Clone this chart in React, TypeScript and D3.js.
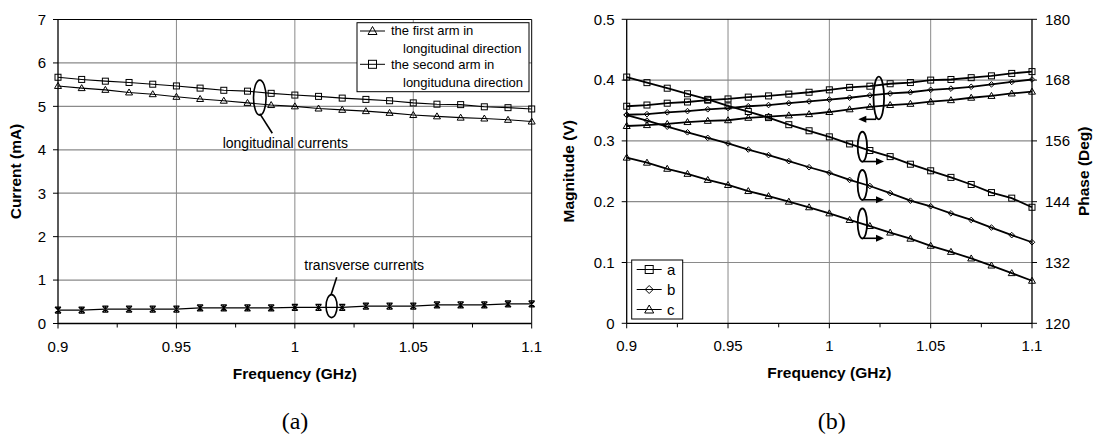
import React from "react";
import * as d3 from "d3";

const freqs = [0.9, 0.91, 0.92, 0.93, 0.94, 0.95, 0.96, 0.97, 0.98, 0.99, 1.0, 1.01, 1.02, 1.03, 1.04, 1.05, 1.06, 1.07, 1.08, 1.09, 1.1];

// chart (a)
const firstArm = [5.47, 5.42, 5.38, 5.32, 5.28, 5.22, 5.17, 5.13, 5.08, 5.03, 5.0, 4.95, 4.92, 4.89, 4.85, 4.8, 4.77, 4.74, 4.72, 4.69, 4.65];
const secondArm = [5.67, 5.62, 5.58, 5.55, 5.51, 5.47, 5.42, 5.37, 5.35, 5.3, 5.26, 5.23, 5.19, 5.16, 5.13, 5.08, 5.05, 5.04, 4.99, 4.97, 4.94];
const transverse = [0.31, 0.31, 0.33, 0.33, 0.33, 0.33, 0.36, 0.36, 0.36, 0.36, 0.37, 0.37, 0.37, 0.4, 0.4, 0.4, 0.43, 0.43, 0.43, 0.45, 0.45];
const currentTicks = [0, 1, 2, 3, 4, 5, 6, 7];

// chart (b)
const magA = [0.357, 0.359, 0.362, 0.364, 0.367, 0.369, 0.372, 0.374, 0.377, 0.38, 0.384, 0.388, 0.39, 0.394, 0.396, 0.4, 0.401, 0.404, 0.407, 0.411, 0.414];
const magB = [0.343, 0.344, 0.347, 0.349, 0.352, 0.354, 0.357, 0.359, 0.362, 0.365, 0.368, 0.371, 0.375, 0.378, 0.38, 0.384, 0.386, 0.389, 0.393, 0.397, 0.401];
const magC = [0.3245, 0.326, 0.328, 0.331, 0.333, 0.334, 0.338, 0.34, 0.342, 0.344, 0.3475, 0.352, 0.356, 0.359, 0.361, 0.3645, 0.367, 0.371, 0.374, 0.378, 0.381];
const phaseA = [168.6, 167.5, 166.4, 165.3, 164.2, 162.9, 161.8, 160.6, 159.2, 158.0, 156.8, 155.4, 154.1, 152.9, 151.4, 150.1, 148.8, 147.4, 145.8, 144.7, 142.9];
const phaseB = [161.1, 160.0, 158.8, 157.7, 156.6, 155.5, 154.3, 153.2, 152.0, 150.8, 149.7, 148.3, 147.1, 145.7, 144.2, 143.1, 141.7, 140.4, 138.9, 137.4, 136.0];
const phaseC = [152.7, 151.7, 150.5, 149.5, 148.3, 147.3, 146.1, 145.1, 144.0, 142.9, 141.7, 140.4, 139.2, 137.9, 136.7, 135.3, 134.1, 132.8, 131.4, 129.9, 128.4];
const magTicks = [0, 0.1, 0.2, 0.3, 0.4, 0.5];
const phaseTicks = [120, 132, 144, 156, 168, 180];

const freqTicks = [0.9, 0.95, 1.0, 1.05, 1.1];
const freqMinor = [0.925, 0.975, 1.025, 1.075];
const freqLabels = ["0.9", "0.95", "1", "1.05", "1.1"];

const SANS = "'Liberation Sans', Arial, sans-serif";
const SERIF = "'Liberation Serif', 'Times New Roman', serif";
const GRID = "#8a8a8a";

type Sc = d3.ScaleLinear<number, number>;

function Marker({ kind, x, y, s = 3 }: { kind: string; x: number; y: number; s?: number }) {
  if (kind === "square")
    return <rect x={x - s} y={y - s} width={2 * s} height={2 * s} fill="none" stroke="#000" strokeWidth={1} />;
  if (kind === "triangle")
    return <path d={`M${x},${y - s - 0.5}L${x + s + 0.5},${y + s - 0.5}L${x - s - 0.5},${y + s - 0.5}Z`} fill="none" stroke="#000" strokeWidth={1} />;
  if (kind === "diamond")
    return <path d={`M${x},${y - s}L${x + s},${y}L${x},${y + s}L${x - s},${y}Z`} fill="none" stroke="#000" strokeWidth={1} />;
  // asterisk / star
  return (
    <path
      d={`M${x - 3},${y - 3}L${x + 3},${y + 3}M${x + 3},${y - 3}L${x - 3},${y + 3}M${x},${y - 3.5}L${x},${y + 3.5}M${x - 3},${y - 3}L${x + 3},${y - 3}M${x - 3},${y + 3}L${x + 3},${y + 3}`}
      fill="none"
      stroke="#000"
      strokeWidth={1.2}
    />
  );
}

function Series({ xs, ys, x, y, kind, width }: { xs: number[]; ys: number[]; x: Sc; y: Sc; kind: string; width: number }) {
  const pts: [number, number][] = xs.map((f, i) => [x(f), y(ys[i])]);
  const line = d3.line()(pts) || "";
  return (
    <g>
      <path d={line} fill="none" stroke="#000" strokeWidth={width} />
      {pts.map((p, i) => (
        <Marker key={i} kind={kind} x={p[0]} y={p[1]} s={kind === "diamond" ? 2.8 : 3} />
      ))}
    </g>
  );
}

function XAxis({ x, y0, top }: { x: Sc; y0: number; top: number }) {
  const cx = (x.range()[0] + x.range()[1]) / 2;
  return (
    <g>
      {freqTicks.slice(1, -1).map((f) => (
        <line key={"g" + f} x1={x(f)} x2={x(f)} y1={top} y2={y0} stroke={GRID} strokeWidth={1} />
      ))}
      <line x1={x.range()[0]} x2={x.range()[1]} y1={y0} y2={y0} stroke="#000" strokeWidth={1.3} />
      {freqTicks.map((f) => (
        <line key={"t" + f} x1={x(f)} x2={x(f)} y1={y0} y2={y0 + 5} stroke="#000" />
      ))}
      {freqMinor.map((f) => (
        <line key={"m" + f} x1={x(f)} x2={x(f)} y1={y0} y2={y0 + 4} stroke="#000" />
      ))}
      {freqTicks.map((f, i) => (
        <text key={"l" + f} x={x(f)} y={y0 + 28} textAnchor="middle" fontFamily={SANS} fontSize={15}>
          {freqLabels[i]}
        </text>
      ))}
      <text x={cx} y={y0 + 55} textAnchor="middle" fontFamily={SANS} fontSize={15.5} fontWeight="bold">
        Frequency (GHz)
      </text>
    </g>
  );
}

function Arrow({ x1, x2, y }: { x1: number; x2: number; y: number }) {
  const dir = x2 > x1 ? 1 : -1;
  return (
    <g>
      <line x1={x1} x2={x2 - dir * 5} y1={y} y2={y} stroke="#000" strokeWidth={1.6} />
      <path d={`M${x2},${y}L${x2 - dir * 8},${y - 3.5}L${x2 - dir * 8},${y + 3.5}Z`} fill="#000" />
    </g>
  );
}

function ChartA() {
  const x = d3.scaleLinear().domain([0.9, 1.1]).range([58, 531.7]);
  const y = d3.scaleLinear().domain([0, 7]).range([323.5, 19.5]);
  const top = y(7);
  const left = x(0.9);
  const right = x(1.1);
  return (
    <g>
      {currentTicks.slice(1, -1).map((t) => (
        <line key={t} x1={left} x2={right} y1={y(t)} y2={y(t)} stroke={GRID} strokeWidth={1.2} />
      ))}
      <XAxis x={x} y0={y(0)} top={top} />
      <line x1={left} x2={right} y1={top} y2={top} stroke="#000" />
      <line x1={right} x2={right} y1={top} y2={y(0)} stroke="#000" />
      <line x1={left} x2={left} y1={top} y2={y(0)} stroke="#000" strokeWidth={1.3} />
      {currentTicks.map((t) => (
        <g key={t}>
          <line x1={left - 5} x2={left} y1={y(t)} y2={y(t)} stroke="#000" />
          <text x={left - 12} y={y(t) + 5.3} textAnchor="end" fontFamily={SANS} fontSize={15}>
            {t}
          </text>
        </g>
      ))}
      <text transform={`translate(21,${(top + y(0)) / 2}) rotate(-90)`} textAnchor="middle" fontFamily={SANS} fontSize={15.5} fontWeight="bold">
        Current (mA)
      </text>

      <Series xs={freqs} ys={transverse} x={x} y={y} kind="star" width={1.3} />
      <Series xs={freqs} ys={firstArm} x={x} y={y} kind="triangle" width={1.1} />
      <Series xs={freqs} ys={secondArm} x={x} y={y} kind="square" width={1.1} />

      {/* longitudinal annotation */}
      <ellipse cx={x(0.9852)} cy={y(5.2)} rx={6.3} ry={17.5} fill="none" stroke="#000" strokeWidth={1.6} />
      <line x1={x(0.9852)} y1={y(5.2) + 16} x2={272.3} y2={133.3} stroke="#000" strokeWidth={1.6} />
      <text x={222.7} y={148} fontFamily={SANS} fontSize={14}>
        longitudinal currents
      </text>
      {/* transverse annotation */}
      <ellipse cx={x(1.0155)} cy={y(0.4)} rx={5.5} ry={11.5} fill="none" stroke="#000" strokeWidth={1.6} />
      <line x1={x(1.0155) - 0.5} y1={y(0.4) - 11.5} x2={336.7} y2={277.3} stroke="#000" strokeWidth={1.6} />
      <text x={304.3} y={270} fontFamily={SANS} fontSize={14}>
        transverse currents
      </text>

      {/* legend */}
      <g>
        <rect x={357} y={22.7} width={172} height={69} fill="#fff" stroke="#000" strokeWidth={1} />
        <line x1={360} x2={385} y1={31} y2={31} stroke="#000" />
        <Marker kind="triangle" x={372.5} y={31} s={4} />
        <text x={391} y={34.5} fontFamily={SANS} fontSize={13}>the first arm in</text>
        <text x={403} y={52.5} fontFamily={SANS} fontSize={13}>longitudinal direction</text>
        <line x1={360} x2={385} y1={64.3} y2={64.3} stroke="#000" />
        <Marker kind="square" x={372.5} y={64.3} s={4} />
        <text x={391} y={69} fontFamily={SANS} fontSize={13}>the second arm in</text>
        <text x={403} y={86.5} fontFamily={SANS} fontSize={13}>longituduna direction</text>
      </g>

      <text x={295} y={429} textAnchor="middle" fontFamily={SERIF} fontSize={24}>
        (a)
      </text>
    </g>
  );
}

function ChartB() {
  const x = d3.scaleLinear().domain([0.9, 1.1]).range([626.7, 1032]);
  const ym = d3.scaleLinear().domain([0, 0.5]).range([323.3, 19.3]);
  const yp = d3.scaleLinear().domain([120, 180]).range([323.3, 19.3]);
  const top = ym(0.5);
  const left = x(0.9);
  const right = x(1.1);
  return (
    <g>
      {magTicks.slice(1, -1).map((t) => (
        <line key={t} x1={left} x2={right} y1={ym(t)} y2={ym(t)} stroke={GRID} strokeWidth={1.2} />
      ))}
      <XAxis x={x} y0={ym(0)} top={top} />
      <line x1={left} x2={right} y1={top} y2={top} stroke="#000" />
      <line x1={left} x2={left} y1={top} y2={ym(0)} stroke="#000" strokeWidth={1.3} />
      <line x1={right} x2={right} y1={top} y2={ym(0)} stroke="#000" strokeWidth={1.3} />
      {magTicks.map((t) => (
        <g key={t}>
          <line x1={left - 5} x2={left} y1={ym(t)} y2={ym(t)} stroke="#000" />
          <text x={left - 12} y={ym(t) + 5.3} textAnchor="end" fontFamily={SANS} fontSize={15}>
            {t}
          </text>
        </g>
      ))}
      {phaseTicks.map((t) => (
        <g key={t}>
          <line x1={right} x2={right + 5} y1={yp(t)} y2={yp(t)} stroke="#000" />
          <text x={right + 13} y={yp(t) + 5.3} textAnchor="start" fontFamily={SANS} fontSize={15}>
            {t}
          </text>
        </g>
      ))}
      <text transform={`translate(574,${(top + ym(0)) / 2}) rotate(-90)`} textAnchor="middle" fontFamily={SANS} fontSize={15.5} fontWeight="bold">
        Magnitude (V)
      </text>
      <text transform={`translate(1089,${(top + ym(0)) / 2}) rotate(-90)`} textAnchor="middle" fontFamily={SANS} fontSize={15.5} fontWeight="bold">
        Phase (Deg)
      </text>

      <Series xs={freqs} ys={magA} x={x} y={ym} kind="square" width={1.8} />
      <Series xs={freqs} ys={magB} x={x} y={ym} kind="diamond" width={1.8} />
      <Series xs={freqs} ys={magC} x={x} y={ym} kind="triangle" width={1.8} />
      <Series xs={freqs} ys={phaseA} x={x} y={yp} kind="square" width={1.8} />
      <Series xs={freqs} ys={phaseB} x={x} y={yp} kind="diamond" width={1.8} />
      <Series xs={freqs} ys={phaseC} x={x} y={yp} kind="triangle" width={1.8} />

      {/* annotations */}
      <ellipse cx={x(1.0244)} cy={ym(0.3706)} rx={5.3} ry={21.3} fill="none" stroke="#000" strokeWidth={1.8} />
      <line x1={876} x2={876} y1={ym(0.3706) + 18} y2={119.3} stroke="#000" strokeWidth={1.6} />
      <Arrow x1={876} x2={858.3} y={119.3} />
      {[154.85, 147.3, 139.7].map((p) => (
        <g key={p}>
          <ellipse cx={x(1.0163)} cy={yp(p)} rx={4.7} ry={15} fill="none" stroke="#000" strokeWidth={1.8} />
          <Arrow x1={x(1.0163) + 1} x2={884} y={yp(p) + 14.8} />
        </g>
      ))}

      {/* legend */}
      <g>
        <rect x={631.7} y={260} width={51} height={59} fill="#fff" stroke="#000" strokeWidth={1} />
        {[
          ["square", "a"],
          ["diamond", "b"],
          ["triangle", "c"],
        ].map(([k, lab], i) => (
          <g key={lab}>
            <line x1={636.7} x2={661.7} y1={269.5 + i * 20} y2={269.5 + i * 20} stroke="#000" />
            <Marker kind={k} x={649.2} y={269.5 + i * 20} s={4} />
            <text x={667} y={274.8 + i * 20} fontFamily={SANS} fontSize={15}>
              {lab}
            </text>
          </g>
        ))}
      </g>

      <text x={831.7} y={429} textAnchor="middle" fontFamily={SERIF} fontSize={24}>
        (b)
      </text>
    </g>
  );
}

export default function App() {
  return (
    <svg
      width={1097}
      height={439}
      viewBox="0 0 1097 439"
      style={{ position: "absolute", left: 0, top: 0, background: "#fff" }}
    >
      <rect x={0} y={0} width={1097} height={439} fill="#fff" />
      <ChartA />
      <ChartB />
    </svg>
  );
}
